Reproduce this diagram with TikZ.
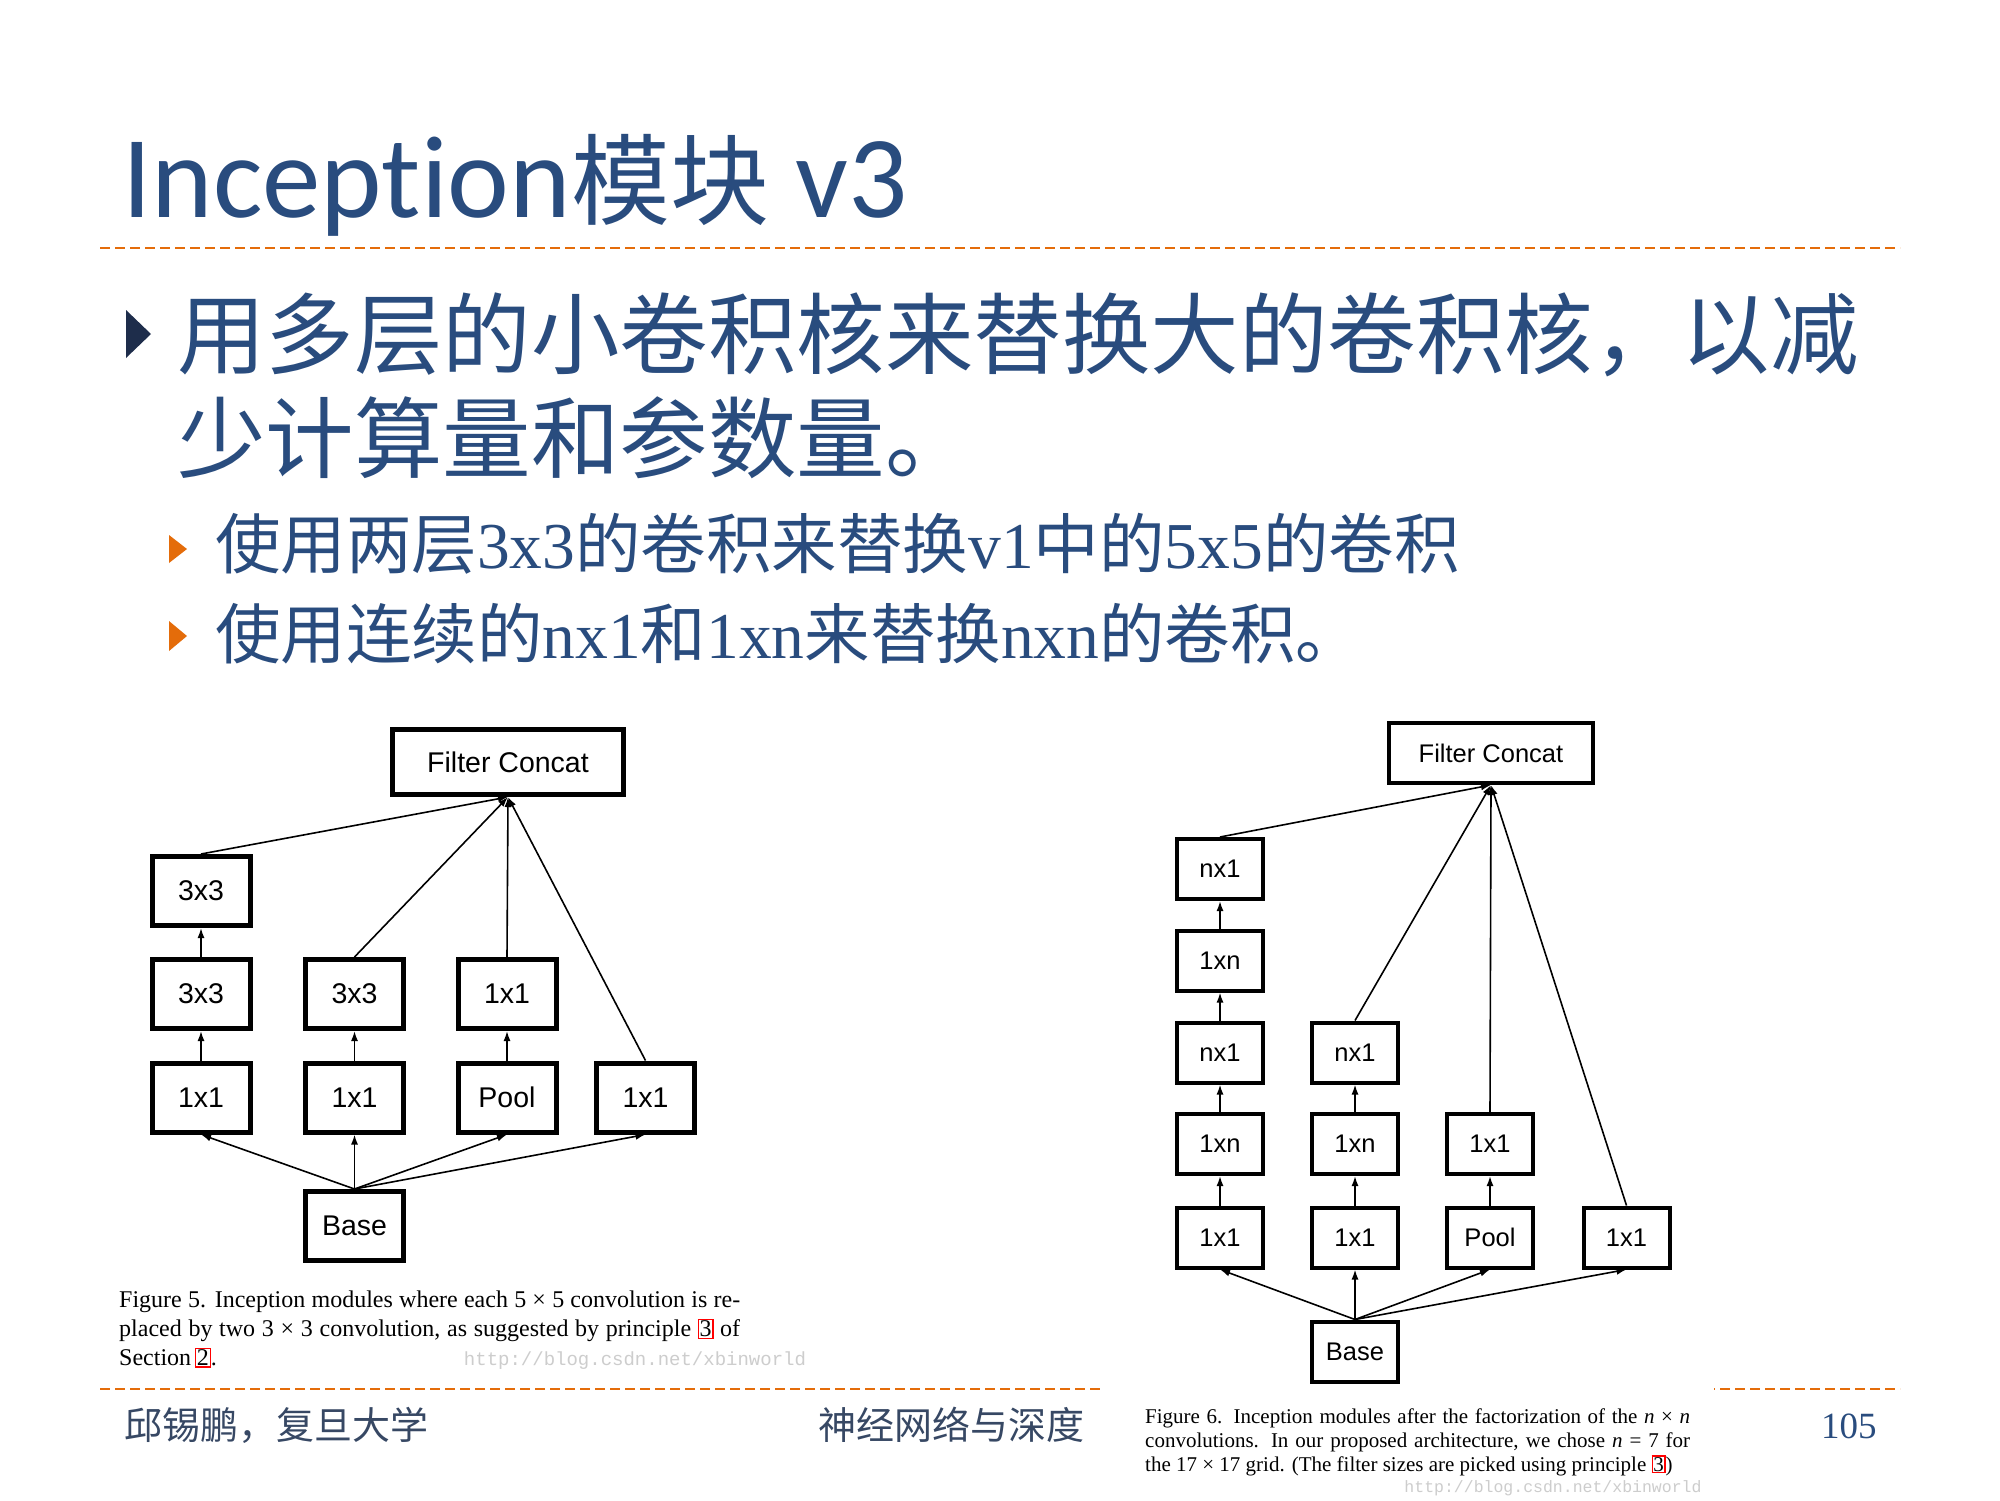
\documentclass[tikz,border=0pt]{standalone}
\usepackage{fontspec}
\usetikzlibrary{arrows.meta}
\setmainfont{Liberation Serif}
\newfontfamily\cjk{Noto Sans CJK SC}
\newfontfamily\titlefont[Ligatures={NoCommon}]{Carlito}
\newfontfamily\arialf{Liberation Sans}
\newfontfamily\wmfont{Liberation Mono}
\definecolor{ttl}{RGB}{41,76,126}
\definecolor{navy}{RGB}{30,45,75}
\definecolor{orng}{RGB}{228,108,10}
\definecolor{foot}{RGB}{55,72,100}
\definecolor{wm}{RGB}{205,205,205}
\newcommand\redref[1]{{\setlength\fboxsep{0.6pt}\setlength\fboxrule{1.2pt}\color{red}\fbox{\color{black}#1}}}
\newcommand\fs[2]{\fontsize{#1}{#2}\selectfont}
\begin{document}
\begin{tikzpicture}[x=1pt,y=-1pt,
  lbox/.style={draw, line width=5pt, minimum width=98pt, minimum height=69pt, inner sep=0pt, font=\arialf\fs{28.5}{30}},
  rbx/.style={draw, line width=4pt, minimum width=86pt, minimum height=60pt, inner sep=0pt, font=\arialf\fs{25.5}{27}},
  conn/.style={line width=1.6pt, -{Latex[length=10pt,width=7pt]}},
  orngdash/.style={orng, line width=2.5pt, dash pattern=on 10pt off 5pt},
  txt/.style={inner sep=0pt, anchor=base west, text=ttl}]
\useasboundingbox (0,0) rectangle (2000,1500);
\fill[white] (0,0) rectangle (2000,1500);

% title
\node[txt] (title) at (122,217) {\titlefont\fs{117}{120}Inception{\cjk\fs{99}{110}模块}\ v3};
\draw[orngdash] (100,248) -- (1900,248);

% bullets
\fill[navy] (126,310) -- (151,334) -- (126,358) -- cycle;
\node[txt] (b1) at (177,367) {\cjk\fs{88.5}{100}用多层的小卷积核来替换大的卷积核，以减};
\node[txt] (b2) at (177,471) {\cjk\fs{88.5}{100}少计算量和参数量。};
\fill[orng] (169,535) -- (187,549) -- (169,563) -- cycle;
\fill[orng] (169,621) -- (187,636) -- (169,651) -- cycle;
\node[txt] (s1) at (215,568) {\cjk\fs{65.5}{70}使用两层{\rmfamily 3x3}的卷积来替换{\rmfamily v1}中的{\rmfamily 5x5}的卷积};
\node[txt] (s2) at (215,658) {\cjk\fs{65.5}{70}使用连续的{\rmfamily nx1}和{\rmfamily 1xn}来替换{\rmfamily nxn}的卷积。};

% footer
\draw[orngdash] (100,1389) -- (1900,1389);
\node[inner sep=0pt, anchor=base west, text=foot] (f1) at (124,1439) {\cjk\fs{38}{40}邱锡鹏，复旦大学};
\node[inner sep=0pt, anchor=base west, text=foot] (f2) at (818,1439) {\cjk\fs{38}{40}神经网络与深度};
\node[inner sep=0pt, anchor=base west, text=ttl] (pg) at (1821,1438) {\fs{37}{40}105};
\fill[white] (1103,1378) rectangle (1714,1500);

% left diagram
\node[lbox, minimum width=231pt, minimum height=65pt] (LFC) at (508,762) {Filter Concat};
\node[lbox] (La1) at (201,891) {3x3};
\node[lbox] (La2) at (201,994) {3x3};
\node[lbox] (La3) at (201,1097.5) {1x1};
\node[lbox] (Lb2) at (354.5,994) {3x3};
\node[lbox] (Lb3) at (354.5,1097.5) {1x1};
\node[lbox] (Lc2) at (507,994) {1x1};
\node[lbox] (Lc3) at (507,1097.5) {Pool};
\node[lbox] (Ld3) at (645.5,1097.5) {1x1};
\node[lbox] (LB) at (354.5,1226) {Base};
\draw[conn] (La3) -- (La2);
\draw[conn] (La2) -- (La1);
\draw[conn] (Lb3) -- (Lb2);
\draw[conn] (Lc3) -- (Lc2);
\draw[conn] (La1.north) -- (LFC.south);
\draw[conn] (Lb2.north) -- (LFC.south);
\draw[conn] (Lc2.north) -- (LFC.south);
\draw[conn] (Ld3.north) -- (LFC.south);
\draw[conn] (LB.north) -- (La3.south);
\draw[conn] (LB.north) -- (Lb3.south);
\draw[conn] (LB.north) -- (Lc3.south);
\draw[conn] (LB.north) -- (Ld3.south);
\node[anchor=north west, inner sep=0pt, text width=621pt, align=justify, font=\fs{24}{29}] (cap5) at (119,1291)
 {Figure 5. Inception modules where each 5 × 5 convolution is re\-placed by two 3 × 3 convolution, as suggested by principle \redref{3} of Section\,\redref{2}.};
\node[inner sep=0pt, text=wm, font=\wmfont\fs{19}{20}] (wm1) at (635,1361) {http://blog.csdn.net/xbinworld};

% right diagram
\node[rbx, minimum width=204pt, minimum height=60pt] (RFC) at (1491,753) {Filter Concat};
\node[rbx] (Ra1) at (1220,869) {nx1};
\node[rbx] (Ra2) at (1220,960.5) {1xn};
\node[rbx] (Ra3) at (1220,1052.5) {nx1};
\node[rbx] (Ra4) at (1220,1144) {1xn};
\node[rbx] (Ra5) at (1220,1237.5) {1x1};
\node[rbx] (Rb3) at (1355,1052.5) {nx1};
\node[rbx] (Rb4) at (1355,1144) {1xn};
\node[rbx] (Rb5) at (1355,1237.5) {1x1};
\node[rbx] (Rc4) at (1490,1144) {1x1};
\node[rbx] (Rc5) at (1490,1237.5) {Pool};
\node[rbx] (Rd5) at (1626.5,1237.5) {1x1};
\node[rbx] (RB) at (1355,1351.5) {Base};
\draw[conn] (Ra5) -- (Ra4);
\draw[conn] (Ra4) -- (Ra3);
\draw[conn] (Ra3) -- (Ra2);
\draw[conn] (Ra2) -- (Ra1);
\draw[conn] (Rb5) -- (Rb4);
\draw[conn] (Rb4) -- (Rb3);
\draw[conn] (Rc5) -- (Rc4);
\draw[conn] (Ra1.north) -- (RFC.south);
\draw[conn] (Rb3.north) -- (RFC.south);
\draw[conn] (Rc4.north) -- (RFC.south);
\draw[conn] (Rd5.north) -- (RFC.south);
\draw[conn] (RB.north) -- (Ra5.south);
\draw[conn] (RB.north) -- (Rb5.south);
\draw[conn] (RB.north) -- (Rc5.south);
\draw[conn] (RB.north) -- (Rd5.south);
\node[anchor=north west, inner sep=0pt, text width=545pt, align=justify, font=\fs{21}{24}] (cap6) at (1145,1408)
 {Figure 6. Inception modules after the factorization of the \textit{n} × \textit{n}\linebreak convolutions. In our proposed architecture, we chose \textit{n} = 7 for\linebreak the 17 × 17 grid. (The filter sizes are picked using principle \redref{3})};
\node[inner sep=0pt, text=wm, font=\wmfont\fs{16.5}{18}] (wm2) at (1553,1488) {http://blog.csdn.net/xbinworld};
\end{tikzpicture}
\end{document}
